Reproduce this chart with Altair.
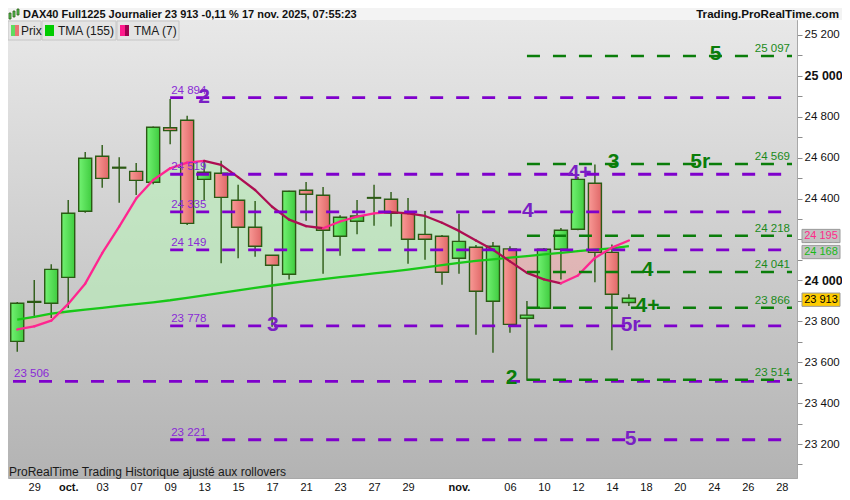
import altair as alt
import pandas as pd

# ---------------- data ----------------
idx = list(range(37))  # trading days 26 Sep 2025 .. 17 Nov 2025
opens = [23702, 23893, 23888, 24015, 24338, 24607, 24553, 24533, 24480, 24746,
         24783, 24494, 24524, 24392, 24260, 24123, 24030, 24441, 24416, 24216,
         24289, 24405, 24397, 24328, 24225, 24216, 24108, 24162, 23898, 24154,
         23815, 23864, 24152, 24250, 24475, 24137, 23892]
highs = [23894, 24002, 24079, 24393, 24628, 24662, 24602, 24574, 24752, 24887,
         24805, 24589, 24585, 24467, 24388, 24123, 24438, 24481, 24457, 24319,
         24393, 24467, 24432, 24403, 24339, 24222, 24326, 24173, 24188, 24167,
         23899, 24158, 24256, 24505, 24566, 24176, 23932]
lows = [23651, 23816, 23816, 23865, 24331, 24453, 24380, 24418, 24470, 24666,
        24271, 24393, 24084, 24108, 24116, 23774, 24005, 24292, 24033, 24121,
        24225, 24267, 24263, 24082, 24101, 23979, 24033, 23734, 23646, 23744,
        23510, 23860, 24005, 24245, 23991, 23658, 23875]
closes = [23888, 23897, 24054, 24328, 24597, 24499, 24549, 24489, 24749, 24732,
          24279, 24529, 24406, 24260, 24167, 24074, 24436, 24421, 24245, 24309,
          24315, 24402, 24328, 24201, 24201, 24040, 24191, 23947, 24167, 23785,
          23830, 24152, 24245, 24494, 24137, 23932, 23913]
tma7 = [23760, 23775, 23803, 23885, 23984, 24133, 24263, 24400, 24491, 24548,
        24576, 24584, 24565, 24505, 24442, 24360, 24297, 24265, 24255, 24288,
        24312, 24328, 24334, 24328, 24315, 24282, 24242, 24195, 24150, 24093,
        24037, 24005, 23986, 24024, 24110, 24160, 24195]
tma155 = [23808, 23822, 23838, 23848, 23857, 23866, 23875, 23884, 23893, 23903,
          23915, 23927, 23939, 23951, 23963, 23975, 23986, 23996, 24006, 24016,
          24025, 24034, 24043, 24053, 24064, 24075, 24086, 24095, 24103, 24111,
          24119, 24127, 24135, 24143, 24150, 24157, 24168]

tick_idx = [1, 3, 5, 7, 9, 11, 13, 15, 17, 19, 21, 23, 26, 29, 31, 33, 35, 37, 39, 41, 43, 45]
tick_labels = ["29", "oct.", "03", "07", "09", "13", "15", "17", "21", "23", "27", "29",
               "nov.", "06", "10", "12", "14", "18", "20", "24", "26", "28"]

purple_vals = [24894, 24519, 24335, 24149, 23778, 23506, 23221]
purple_start = [9, 9, 9, 9, 9, -0.25, 9]
purple_text = ["24 894", "24 519", "24 335", "24 149", "23 778", "23 506", "23 221"]

green_vals = [25097, 24569, 24218, 24041, 23866, 23514]
green_start = [30, 30, 30, 30, 30, 30]
green_text = ["25 097", "24 569", "24 218", "24 041", "23 866", "23 514"]

bigp_text = ["2", "3", "4", "4+", "5r", "5"]
bigp_idx = [11.0, 15.05, 30.05, 33.1, 36.1, 36.1]
bigp_val = [24894, 23778, 24335, 24519, 23778, 23221]

bigg_text = ["5", "3", "5r", "4", "4+", "2"]
bigg_idx = [41.1, 35.1, 40.2, 37.1, 37.1, 29.1]
bigg_val = [25097, 24569, 24569, 24041, 23866, 23514]

tag_vals = [24195, 24168, 23913]
tag_text = ["24 195", "24 168", "23 913"]
tag_fill = ["#c2c2c2", "#c2c2c2", "#ffcc00"]
tag_color = ["#ff2a8a", "#18b818", "#000000"]
tag_shift = [-4.5, 6, 1.5]

# ---------------- layout ----------------
W, H = 789, 458
XMIN, XMAX = -0.25, 45.6
YMIN, YMAX = 23034, 25273
FONT = "Liberation Sans"
DK = "#2b5a14"
PURP = "#7f00cc"
PURP_T = "#8a2ad6"
PURP_BIG = "#7a1fc4"
GRN = "#0a7d0a"
GRN_T = "#1a8a1a"

lookup = [""] * 46
for k, t in zip(tick_idx, tick_labels):
    lookup[k] = t
x_expr = "[" + ",".join("'%s'" % s for s in lookup) + "][datum.value]"

XS = alt.Scale(domain=[XMIN, XMAX], nice=False, zero=False)
YS = alt.Scale(domain=[YMIN, YMAX], nice=False, zero=False)

XAXIS = alt.Axis(values=tick_idx, labelExpr=x_expr, grid=False, domain=False, ticks=False,
                 labelPadding=3, labelFontSize=11, labelFont=FONT, labelColor="#111111",
                 labelFontWeight=alt.condition("datum.value == 3 || datum.value == 26",
                                               alt.value("bold"), alt.value("normal")),
                 labelOverlap=False, labelFlush=False, title=None)
YAXIS = alt.Axis(orient="right", values=list(range(23100, 25300, 100)),
                 labelExpr="datum.value % 200 == 0 ? replace(format(datum.value, ','), ',', ' ') : ''",
                 tickSize=5, tickColor="#8c8c8c", domainColor="#a8a8a8", labelPadding=2,
                 labelFontSize=alt.condition("datum.value % 1000 == 0", alt.value(12.5), alt.value(11.5)),
                 labelFontWeight=alt.condition("datum.value % 1000 == 0", alt.value("bold"), alt.value("normal")),
                 labelFont=FONT, labelColor="#111111", grid=False, labelOverlap=False,
                 labelFlush=False, title=None)


def X(f):
    return alt.X(f, type="quantitative", scale=XS, axis=XAXIS)


def Y(f):
    return alt.Y(f, type="quantitative", scale=YS, axis=YAXIS)


one = pd.DataFrame({"a": [0]})

df = pd.DataFrame({"i": idx, "o": opens, "h": highs, "l": lows, "c": closes})
df_ma = pd.DataFrame({"i": idx, "t7": tma7, "t155": tma155})
df_ma["hi"] = df_ma[["t7", "t155"]].max(axis=1)
df_ma["lo"] = df_ma[["t7", "t155"]].min(axis=1)

segs = []
for k in range(len(tma7) - 1):
    col = "#ff2590" if tma7[k + 1] >= tma7[k] else "#ad0f52"
    segs.append({"seg": k, "i": idx[k], "v": tma7[k], "col": col})
    segs.append({"seg": k, "i": idx[k + 1], "v": tma7[k + 1], "col": col})
df_seg = pd.DataFrame(segs)

df_p = pd.DataFrame({"v": purple_vals, "s": purple_start, "t": purple_text})
df_p["e"] = XMAX
df_g = pd.DataFrame({"v": green_vals, "s": green_start, "t": green_text})
df_g["e"] = XMAX
df_bp = pd.DataFrame({"t": bigp_text, "i": bigp_idx, "v": bigp_val})
df_bg = pd.DataFrame({"t": bigg_text, "i": bigg_idx, "v": bigg_val})

layers = []

# plot background gradient
bg_grad = alt.LinearGradient(gradient="linear",
                             stops=[alt.GradientStop(color="#e8e8e8", offset=0),
                                    alt.GradientStop(color="#b3b3b3", offset=1)],
                             x1=0, x2=0, y1=0, y2=1)
layers.append(alt.Chart(one).mark_rect(fill=bg_grad).encode(
    x=alt.value(0), x2=alt.value(W), y=alt.value(0), y2=alt.value(H)))

# header bar
layers.append(alt.Chart(one).mark_rect(fill="#f3f3f3").encode(
    x=alt.value(0), x2=alt.value(W + 45), y=alt.value(-12), y2=alt.value(0)))

# fill between averages
layers.append(alt.Chart(df_ma).mark_area(color="#b8f0b8", opacity=0.6).encode(
    x=X("i"), y=Y("hi"), y2="t155"))
layers.append(alt.Chart(df_ma).mark_area(color="#f4a0a0", opacity=0.5).encode(
    x=X("i"), y=Y("lo"), y2="t155"))

# candles
g_up = alt.LinearGradient(gradient="linear",
                          stops=[alt.GradientStop(color="#72f272", offset=0),
                                 alt.GradientStop(color="#40cc40", offset=1)],
                          x1=0, x2=1, y1=0, y2=0)
g_dn = alt.LinearGradient(gradient="linear",
                          stops=[alt.GradientStop(color="#f99a96", offset=0),
                                 alt.GradientStop(color="#e06868", offset=1)],
                          x1=0, x2=1, y1=0, y2=0)
layers.append(alt.Chart(df).mark_rule(color=DK, strokeWidth=1.4).encode(
    x=X("i"), y=Y("l"), y2="h"))
layers.append(alt.Chart(df).transform_filter("datum.c >= datum.o").mark_bar(
    width=13, fill=g_up, stroke=DK, strokeWidth=1.4).encode(x=X("i"), y=Y("o"), y2="c"))
layers.append(alt.Chart(df).transform_filter("datum.c < datum.o").mark_bar(
    width=13, fill=g_dn, stroke=DK, strokeWidth=1.4).encode(x=X("i"), y=Y("o"), y2="c"))

# moving averages
layers.append(alt.Chart(df_ma).mark_line(color="#18c818", strokeWidth=2.3).encode(
    x=X("i"), y=Y("t155")))
layers.append(alt.Chart(df_seg).mark_line(strokeWidth=2.3, strokeCap="round").encode(
    x=X("i"), y=Y("v"), detail="seg:N", color=alt.Color("col:N", scale=None)))

# level lines
layers.append(alt.Chart(df_p).mark_rule(color=PURP, strokeWidth=2.8, strokeDash=[13, 13]).encode(
    x=X("s"), x2="e", y=Y("v")))
layers.append(alt.Chart(df_g).mark_rule(color=GRN, strokeWidth=2.4, strokeDash=[13, 13]).encode(
    x=X("s"), x2="e", y=Y("v")))
layers.append(alt.Chart(df_p).mark_text(align="left", baseline="bottom", dx=1, dy=-2,
                                        fontSize=11.5, font=FONT, color=PURP_T).encode(
    x=X("s"), y=Y("v"), text="t"))
layers.append(alt.Chart(df_g).mark_text(align="right", baseline="bottom", dx=-2, dy=-2,
                                        fontSize=11.5, font=FONT, color=GRN_T).encode(
    x=X("e"), y=Y("v"), text="t"))
layers.append(alt.Chart(df_bp).mark_text(align="center", baseline="middle", dy=-1,
                                         fontSize=21, fontWeight="bold", font=FONT,
                                         color=PURP_BIG).encode(
    x=X("i"), y=Y("v"), text="t"))
layers.append(alt.Chart(df_bg).mark_text(align="center", baseline="middle", dy=-2,
                                         fontSize=21, fontWeight="bold", font=FONT,
                                         color=GRN).encode(
    x=X("i"), y=Y("v"), text="t"))

# price tags on the right axis
box = "M-1,-0.35L1,-0.35L1,0.35L-1,0.35Z"
for v, t, f, c, s in zip(tag_vals, tag_text, tag_fill, tag_color, tag_shift):
    d = pd.DataFrame({"v": [v], "t": [t]})
    layers.append(alt.Chart(d).mark_point(shape=box, size=1444, filled=True, fill=f, opacity=1,
                                          stroke="#9a9a9a", strokeWidth=1, yOffset=s).encode(
        x=alt.value(W + 24), y=Y("v")))
    layers.append(alt.Chart(d).mark_text(align="center", baseline="middle", yOffset=s,
                                         fontSize=11, font=FONT, color=c).encode(
        x=alt.value(W + 24), y=Y("v"), text="t"))

# legend row
legend_boxes = [(0, 33), (34, 108), (109, 171)]
for a, b in legend_boxes:
    layers.append(alt.Chart(one).mark_rect(fill="#e4e4e4", stroke="#c6c6c6", strokeWidth=1).encode(
        x=alt.value(a), x2=alt.value(b), y=alt.value(1), y2=alt.value(20)))
legend_sw = [(3, 7, "#5fdc5f"), (7, 11, "#e87474"), (37, 46, "#00cc00"),
             (112, 117, "#ff1a8c"), (117, 121, "#a00050")]
for a, b, col in legend_sw:
    layers.append(alt.Chart(one).mark_rect(fill=col).encode(
        x=alt.value(a), x2=alt.value(b), y=alt.value(5), y2=alt.value(16)))
for xx, t in [(13, "Prix"), (50, "TMA (155)"), (126, "TMA (7)")]:
    layers.append(alt.Chart(one).mark_text(align="left", baseline="middle", fontSize=12,
                                           font=FONT, color="#1a1a1a").encode(
        x=alt.value(xx), y=alt.value(11), text=alt.value(t)))

# header texts
for a, b, yy in [(1, 3, -3), (5, 7, -5), (9, 11, -7)]:
    layers.append(alt.Chart(one).mark_rect(fill="#55cc55", stroke="#2b5a14", strokeWidth=0.8).encode(
        x=alt.value(a), x2=alt.value(b), y=alt.value(yy - 4), y2=alt.value(yy + 2)))
layers.append(alt.Chart(one).mark_text(align="left", baseline="middle", fontSize=11,
                                       fontWeight="bold", font=FONT, color="#111111").encode(
    x=alt.value(15), y=alt.value(-5),
    text=alt.value("DAX40 Full1225 Journalier 23 913 -0,11 % 17 nov. 2025, 07:55:23")))
layers.append(alt.Chart(one).mark_text(align="right", baseline="middle", fontSize=11.6,
                                       fontWeight="bold", font=FONT, color="#111111").encode(
    x=alt.value(W + 42), y=alt.value(-5), text=alt.value("Trading.ProRealTime.com")))

# footer text
layers.append(alt.Chart(one).mark_text(align="left", baseline="bottom", fontSize=12,
                                       font=FONT, color="#1a1a1a").encode(
    x=alt.value(1), y=alt.value(H + 1),
    text=alt.value("ProRealTime Trading  Historique ajusté aux rollovers")))

chart = alt.layer(*layers).properties(
    width=W, height=H,
    autosize=alt.AutoSizeParams(type="none"),
    padding={"left": 0, "top": 12, "right": 45, "bottom": 14},
    background="white",
).configure_view(stroke="#a8a8a8", strokeWidth=1)

chart.save("out.html", embed_options={"renderer": "svg", "actions": False})
